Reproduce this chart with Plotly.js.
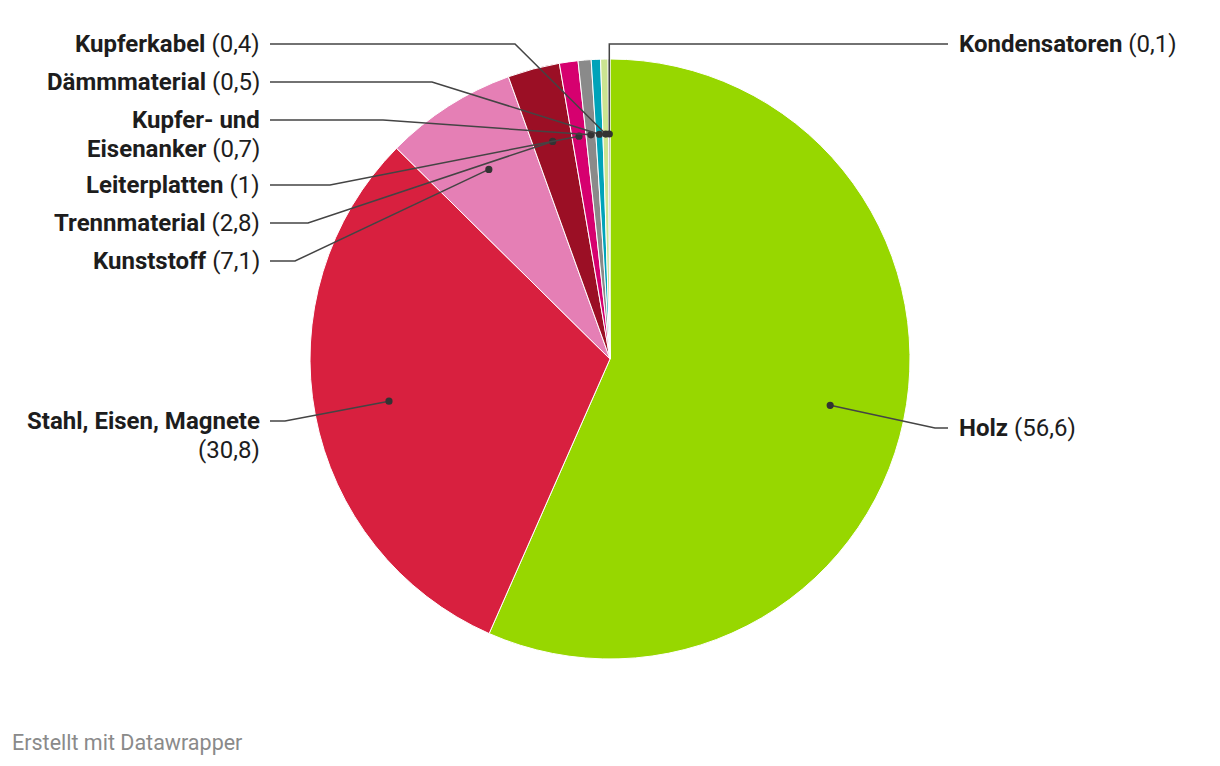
<!DOCTYPE html>
<html>
<head>
<meta charset="utf-8">
<script src="https://cdn.plot.ly/plotly-3.0.1.min.js"></script>
<style>
  html, body { margin: 0; padding: 0; background: #fff; }
  #chart { width: 1220px; height: 766px; }
</style>
</head>
<body>
<div id="chart"></div>
<script>
// ---- data ----
const categories = ['Holz', 'Stahl, Eisen, Magnete', 'Kunststoff', 'Trennmaterial', 'Leiterplatten',
                    'Kupfer- und Eisenanker', 'Dämmmaterial', 'Kupferkabel', 'Kondensatoren'];
const values = [56.6, 30.8, 7.1, 2.8, 1, 0.7, 0.5, 0.4, 0.1];
const colors = ['#97d700', '#d8203f', '#e57fb5', '#9b0f25', '#d6006f',
                '#8a8a8a', '#00a3b9', '#cbe491', '#6f6f6f'];
// label text lines (name broken where the original breaks it)
const labelNames = ['Holz', 'Stahl, Eisen, Magnete', 'Kunststoff', 'Trennmaterial', 'Leiterplatten',
                    'Kupfer- und|Eisenanker', 'Dämmmaterial', 'Kupferkabel', 'Kondensatoren'];
const valueOnNewLine = [false, true, false, false, false, false, false, false, false];

// ---- layout constants (pixels) ----
const W = 1220, H = 766;
const CX = 610, CY = 359, R = 300;
const DOT_R = 0.75;
const labelSide  = ['right', 'left', 'left', 'left', 'left', 'left', 'left', 'left', 'right'];
const labelLineY = [428, 421, 261, 223, 185, 120, 82, 44, 44];
const labelElbow = [935, 285, 295, 308, 330, 383, 432, 515, null];
const LEFT_LINE_END = 270, LEFT_TEXT_X = 262;
const RIGHT_LINE_END = 948, RIGHT_TEXT_X = 957;
const LINE_GAP = 28.5;
const FONT = 'Roboto, "Open Sans", sans-serif';
const FS = 24;

const px = x => x / W;
const py = y => 1 - y / H;
const fmt = v => String(v).replace('.', ',');

const total = values.reduce((a, b) => a + b, 0);
const shapes = [];
const annotations = [];
let cum = 0;
values.forEach((v, i) => {
  const mid = (cum + v / 2) / total * 2 * Math.PI; // clockwise from 12 o'clock
  cum += v;
  const dx = CX + Math.sin(mid) * R * DOT_R;
  const dy = CY - Math.cos(mid) * R * DOT_R;
  const ly = labelLineY[i];
  let path;
  if (labelSide[i] === 'left') {
    path = `M${px(dx)},${py(dy)} L${px(labelElbow[i])},${py(ly)} L${px(LEFT_LINE_END)},${py(ly)}`;
  } else if (labelElbow[i] === null) {
    path = `M${px(dx)},${py(dy)} L${px(dx)},${py(ly)} L${px(RIGHT_LINE_END)},${py(ly)}`;
  } else {
    path = `M${px(dx)},${py(dy)} L${px(labelElbow[i])},${py(ly)} L${px(RIGHT_LINE_END)},${py(ly)}`;
  }
  shapes.push({type: 'path', xref: 'paper', yref: 'paper', path: path,
               line: {color: '#444', width: 1.5}});
  const r = 3.6;
  shapes.push({type: 'circle', xref: 'paper', yref: 'paper',
               x0: px(dx - r), x1: px(dx + r), y0: py(dy + r), y1: py(dy - r),
               fillcolor: '#333', line: {color: '#333', width: 0}});

  const nameLines = labelNames[i].split('|').map(s => '<b>' + s + '</b>');
  const valTxt = '(' + fmt(v) + ')';
  if (valueOnNewLine[i]) nameLines.push(valTxt);
  else nameLines[nameLines.length - 1] += ' ' + valTxt;
  const left = labelSide[i] === 'left';
  nameLines.forEach((t, k) => {
    annotations.push({
      xref: 'paper', yref: 'paper',
      x: px(left ? LEFT_TEXT_X : RIGHT_TEXT_X),
      y: py(ly + k * LINE_GAP),
      xanchor: left ? 'right' : 'left',
      yanchor: 'middle',
      showarrow: false,
      text: t,
      font: {family: FONT, size: FS, color: '#1d1d1d'}
    });
  });
});

annotations.push({
  xref: 'paper', yref: 'paper', x: px(10), y: py(742),
  xanchor: 'left', yanchor: 'middle', showarrow: false,
  text: 'Erstellt mit Datawrapper',
  font: {family: FONT, size: 21.5, color: '#8a8a8a'}
});

const trace = {
  type: 'pie',
  labels: categories,
  values: values,
  sort: false,
  direction: 'clockwise',
  rotation: 0,
  textinfo: 'none',
  hoverinfo: 'skip',
  marker: {colors: colors, line: {color: '#ffffff', width: 1}},
  domain: {x: [px(CX - R), px(CX + R)], y: [py(CY + R), py(CY - R)]}
};

Plotly.newPlot('chart', [trace], {
  width: W, height: H,
  margin: {l: 0, r: 0, t: 0, b: 0},
  paper_bgcolor: '#fff',
  showlegend: false,
  shapes: shapes,
  annotations: annotations
}, {displayModeBar: false, staticPlot: true});
</script>
</body>
</html>
